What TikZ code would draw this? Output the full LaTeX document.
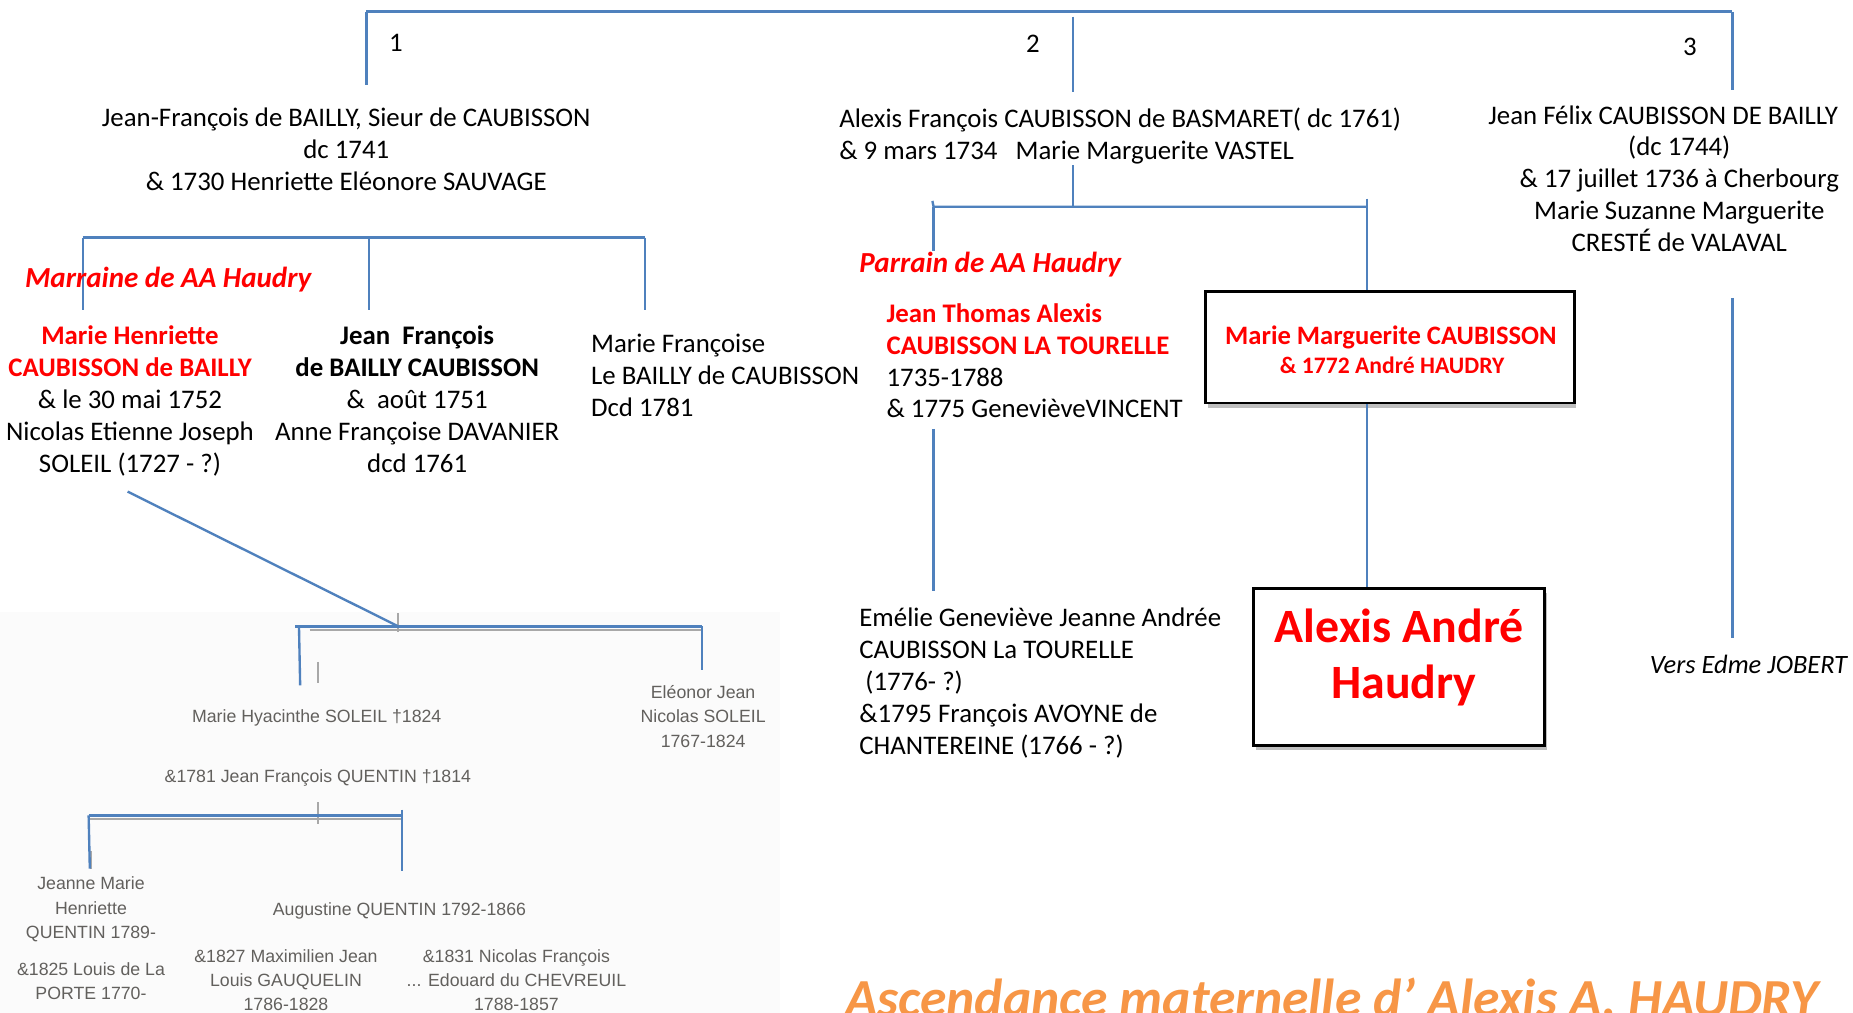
\documentclass[tikz,border=0pt]{standalone}
\usepackage{fontspec}
\setmainfont{Carlito}
\newfontfamily\grayfont{Liberation Sans}
\usetikzlibrary{shadows}
\definecolor{lineblue}{HTML}{4F81BD}
\definecolor{hred}{HTML}{FF0000}
\definecolor{horange}{HTML}{F79646}
\definecolor{imgtext}{HTML}{62605D}
\definecolor{imggray}{HTML}{A8A8A8}
\newcommand{\mainfs}{\fontsize{22.7}{27}\selectfont}
\newcommand{\grayfs}{\grayfont\fontsize{15}{20.5}\selectfont}
\tikzset{
  conn/.style={draw=lineblue, line width=2pt},
  grayconn/.style={draw=imggray, line width=1.6pt},
  txt/.style={font=\mainfs, inner sep=0pt, align=center, execute at begin node={\mainfs\strut}},
  txtl/.style={txt, align=left},
  gtxt/.style={font=\grayfs, text=imgtext, inner sep=0pt, align=center, execute at begin node={\grayfs\strut}},
  lbl/.style={font=\fontsize{24.6}{29}\selectfont\bfseries\itshape, text=hred, inner sep=0pt},
  famebox/.style={draw=black, line width=2.5pt, fill=white, inner sep=0pt,
    drop shadow={shadow xshift=2pt, shadow yshift=-4pt, opacity=0.25, fill=black}}
}
\begin{document}
\begin{tikzpicture}[x=1pt,y=-1pt]
\useasboundingbox (0,0) rectangle (1568,857);
\clip (0,0) rectangle (1568,857);
\fill[white] (0,0) rectangle (1568,857);
% faint background of pasted picture
\fill[black!1.5] (0,518) rectangle (660,857);

% ---------- top bar ----------
\coordinate (t1) at (310,10);
\coordinate (t3) at (1466,10);
\coordinate (t2) at (908,14);
\coordinate (t1e) at (310,72);
\coordinate (t2e) at (908,78);
\coordinate (t3e) at (1466,76);
\draw[conn, line width=2.5pt] (t1) -- (t3);
\draw[conn] (t1) -- (t1e);
\draw[conn] (t2) -- (t2e);
\draw[conn] (t3) -- (t3e);
\node[inner sep=0pt, font=\mainfs] (n1) at (335,36) {1};
\node[inner sep=0pt, font=\mainfs] (n2) at (874,37) {2};
\node[inner sep=0pt, font=\mainfs] (n3) at (1430,40) {3};

% ---------- generation 1 ----------
\node[txt, anchor=north] (b1) at (293,91.5)
  {Jean-François de BAILLY, Sieur de CAUBISSON\\dc 1741\\\& 1730 Henriette Eléonore SAUVAGE};
\node[txtl, anchor=north west] (b2) at (710,91.5)
  {Alexis François CAUBISSON de BASMARET( dc 1761)\\\& 9 mars 1734\ \ \ Marie Marguerite VASTEL};
\node[txt, anchor=north] (b3) at (1421,89)
  {Jean Félix CAUBISSON DE BAILLY\hspace*{1.2em}\\(dc 1744)\\\& 17 juillet 1736 à Cherbourg\\Marie Suzanne Marguerite\\CRESTÉ de VALAVAL};

% ---------- family 1 ----------
\coordinate (f1l) at (70,201);
\coordinate (f1m) at (312,201);
\coordinate (f1r) at (546,201);
\coordinate (f1le) at (70,262);
\coordinate (f1me) at (312,262);
\coordinate (f1re) at (546,262);
\draw[conn] (f1l) -- (f1r);
\draw[conn] (f1l) -- (f1le);
\draw[conn] (f1m) -- (f1me);
\draw[conn] (f1r) -- (f1re);
\node[lbl, anchor=base west] (marraine) at (21,243) {Marraine de AA Haudry};

\node[txt, anchor=north] (c1) at (110,275.5)
  {\textcolor{hred}{\bfseries Marie Henriette}\\\textcolor{hred}{\bfseries CAUBISSON de BAILLY}\\\& le 30 mai 1752\\Nicolas Etienne Joseph\\SOLEIL (1727 - ?)};
\node[txt, anchor=north] (c2) at (353,275.5)
  {{\bfseries Jean\ \ François}\\{\bfseries de BAILLY CAUBISSON}\\\&\ \ août 1751\\Anne Françoise DAVANIER\\dcd 1761};
\node[txtl, anchor=north west] (c3) at (500,282.5)
  {Marie Françoise\\Le BAILLY de CAUBISSON\\Dcd 1781};

% ---------- pasted sub-tree (grey) ----------
\coordinate (dg1) at (108,416);
\coordinate (dg2) at (337,530);
\draw[grayconn] (262,533) -- (593,533);
\draw[grayconn] (337,519) -- (337,535);
\draw[grayconn] (269,560) -- (269,578);
\draw[grayconn] (75,693) -- (340,693);
\draw[grayconn] (269,679) -- (269,697);
\draw[grayconn] (77,720) -- (77,735);

\draw[conn] (dg1) -- (dg2);
\coordinate (s1l) at (250,530);
\coordinate (s1r) at (594,530);
\draw[conn] (s1l) -- (s1r);
\draw[conn] (253,530) -- (254,580);
\draw[conn] (s1r) -- (594,567);
\coordinate (s2l) at (75,690);
\coordinate (s2r) at (340,690);
\draw[conn] (s2l) -- (s2r);
\draw[conn] (s2l) -- (76,735);
\draw[conn] (340,685) -- (340,737);

\node[gtxt, anchor=north] (g1) at (268,597) {Marie Hyacinthe SOLEIL †1824};
\node[gtxt, anchor=north] (g2) at (269,648) {\&1781 Jean François QUENTIN †1814};
\node[gtxt, anchor=north] (g3) at (595,580) {Eléonor Jean\\Nicolas SOLEIL\\1767-1824};
\node[gtxt, anchor=north] (g4) at (77,742) {Jeanne Marie\\Henriette\\QUENTIN 1789-};
\node[gtxt, anchor=north] (g5) at (77,814) {\&1825 Louis de La\\PORTE 1770-};
\node[gtxt, anchor=north] (g6) at (338,760) {Augustine QUENTIN 1792-1866};
\node[gtxt, anchor=north] (g7) at (242,803) {\&1827 Maximilien Jean\\Louis GAUQUELIN\\1786-1828};
\node[gtxt, anchor=north] (g8) at (437,803) {\&1831 Nicolas François\\... Edouard du CHEVREUIL\\1788-1857};

% ---------- family 2 ----------
\coordinate (f2top) at (908,140);
\coordinate (f2m) at (908,175);
\coordinate (f2l) at (790,175);
\coordinate (f2r) at (1157,175);
\coordinate (f2le) at (790,212);
\draw[conn] (f2top) -- (f2m);
\draw[conn] (789,170) -- (f2l) -- (f2r);
\draw[conn] (f2l) -- (f2le);
\draw[conn] (1157,168) -- (f2r);

\node[lbl, anchor=base west] (parrain) at (727,231) {Parrain de AA Haudry};
\node[txtl, anchor=north west] (jt) at (750,256.5)
  {\textcolor{hred}{\bfseries Jean Thomas Alexis}\\\textcolor{hred}{\bfseries CAUBISSON LA TOURELLE}\\1735-1788\\\& 1775 GenevièveVINCENT};
\coordinate (jtl1) at (790,363);
\coordinate (jtl2) at (790,500);
\draw[conn] (jtl1) -- (jtl2);
\node[txtl, anchor=north west] (em) at (727,514.5)
  {Emélie Geneviève Jeanne Andrée\\CAUBISSON La TOURELLE\\\ (1776- ?)\\\&1795 François AVOYNE de\\CHANTEREINE (1766 - ?)};

% boxes
\node[famebox, minimum width=312, minimum height=94] (box1) at (1176,294) {};
\node[inner sep=0pt, text=hred, font=\bfseries\fontsize{22.5}{26}\selectfont, anchor=base] (box1a) at (1177,291.5) {Marie Marguerite CAUBISSON};
\node[inner sep=0pt, text=hred, font=\bfseries\fontsize{20}{23}\selectfont, anchor=base] (box1b) at (1178,316) {\& 1772 André HAUDRY};
\node[famebox, minimum width=246, minimum height=133] (box2) at (1184,564.5) {};
\node[inner sep=0pt, text=hred, font=\bfseries\fontsize{40.5}{46}\selectfont, anchor=base] (box2a) at (1184,544) {Alexis André};
\node[inner sep=0pt, text=hred, font=\bfseries\fontsize{40.5}{46}\selectfont, anchor=base] (box2b) at (1188,591) {Haudry};
\draw[conn] (f2r) -- (f2r |- box1.north);
\draw[conn] (f2r |- box1.south) -- (f2r |- box2.north);

% ---------- branch 3 ----------
\coordinate (r1) at (1466,252);
\coordinate (r2) at (1466,540);
\draw[conn] (r1) -- (r2);
\node[inner sep=0pt, font=\fontsize{22.4}{27}\selectfont\itshape, anchor=base west] (vers) at (1396,569.5) {Vers Edme JOBERT};

% ---------- title ----------
\node[inner sep=0pt, text=horange, font=\fontsize{45.3}{54}\selectfont\bfseries\itshape, anchor=base west] (title) at (715,860)
  {Ascendance maternelle d’ Alexis A. HAUDRY};
\end{tikzpicture}
\end{document}
